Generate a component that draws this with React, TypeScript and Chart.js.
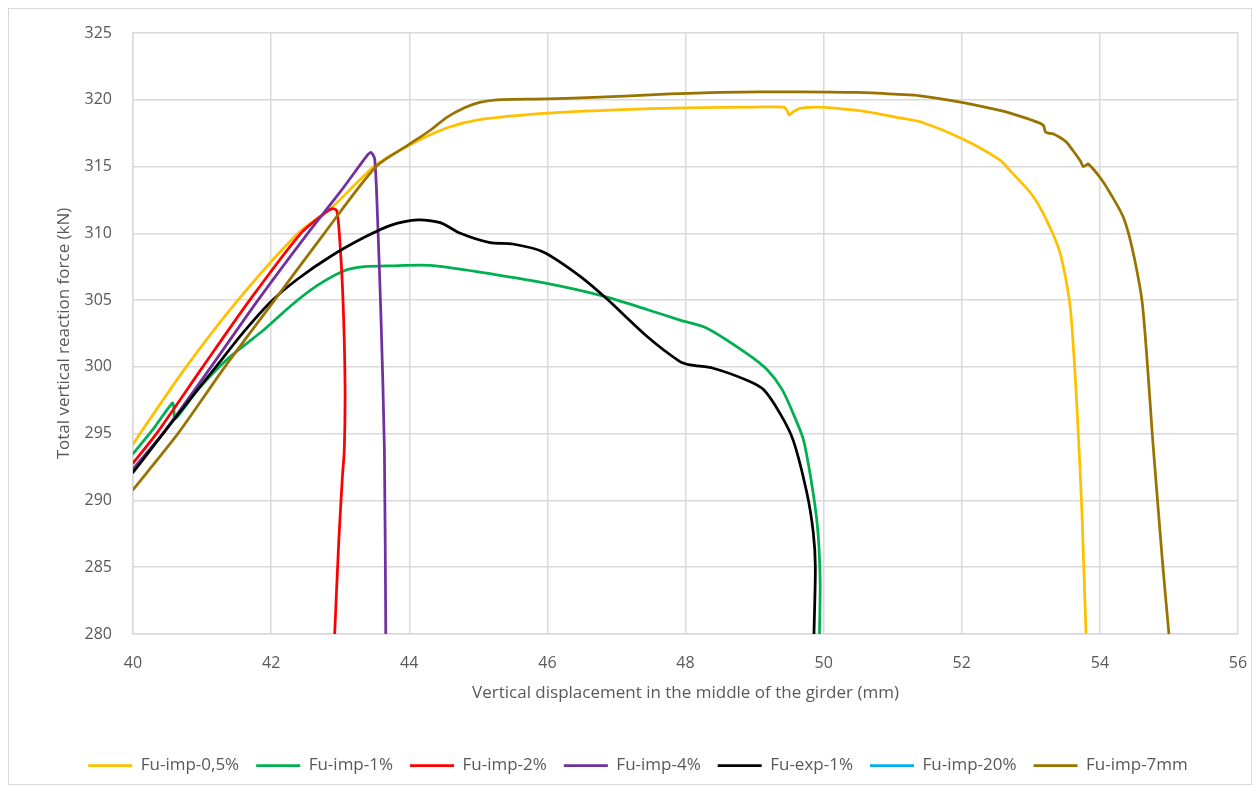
import React, { useEffect, useRef } from "react";
import { Chart, registerables } from "chart.js";

Chart.register(...registerables);

// ---------- data ----------
const seriesNames = [
  "Fu-imp-0,5%",
  "Fu-imp-1%",
  "Fu-imp-2%",
  "Fu-imp-4%",
  "Fu-exp-1%",
  "Fu-imp-20%",
  "Fu-imp-7mm",
];
const seriesColors = ["#FFC000", "#00B050", "#FF0000", "#7030A0", "#000000", "#00B0F0", "#997300"];

const imp05X = [40, 40.1, 40.77, 41.52, 42.39, 42.87, 43.49, 44.0, 44.55, 45.0, 46.0, 47.0, 48.0, 49.0, 49.42, 49.47, 49.5, 49.56, 49.66, 49.9, 50.2, 50.63, 51.1, 51.4, 52.0, 52.55, 52.7, 53.0, 53.18, 53.42, 53.57, 53.67, 53.74, 53.78, 53.8];
const imp05Y = [294.2, 295, 300, 305, 310, 311.9, 315, 316.6, 317.9, 318.5, 319.0, 319.25, 319.4, 319.45, 319.45, 319.2, 318.85, 319.1, 319.35, 319.45, 319.35, 319.1, 318.65, 318.35, 317.1, 315.5, 314.7, 313.0, 311.5, 308.6, 304.5, 296.8, 289.1, 283, 280];

const imp1X = [40, 40.3, 40.57, 40.59, 40.61, 40.94, 41.37, 41.9, 42.29, 42.67, 43.06, 43.35, 43.73, 44.3, 45.02, 45.99, 46.81, 47.44, 47.92, 48.31, 48.89, 49.18, 49.4, 49.56, 49.71, 49.85, 49.92, 49.95, 49.94];
const imp1Y = [293.5, 295.4, 297.3, 297.0, 296.1, 298.3, 300.6, 302.8, 304.6, 306.1, 307.2, 307.5, 307.57, 307.6, 307.1, 306.25, 305.3, 304.3, 303.5, 302.9, 301.0, 299.8, 298.3, 296.5, 294.5, 290.5, 287.5, 283.8, 280];

const imp2X = [40, 40.34, 41.01, 41.69, 42.43, 42.8, 42.89, 42.95, 42.99, 43.04, 43.07, 43.06, 43.03, 42.98, 42.92];
const imp2Y = [292.8, 295, 300, 305, 310, 311.6, 311.85, 311.7, 309.8, 305.1, 298.8, 293.85, 291.6, 287, 280];

const imp4X = [40, 40.43, 41.13, 41.81, 42.53, 43.0, 43.4, 43.45, 43.5, 43.54, 43.59, 43.64, 43.66];
const imp4Y = [292.35, 295, 300, 305, 310, 313.1, 315.9, 316.05, 315.55, 311.3, 303.8, 293.85, 280];

const exp1X = [40, 40.3, 40.6, 41.2, 41.6, 42.0, 42.39, 42.87, 43.35, 43.73, 44.13, 44.45, 44.74, 45.17, 45.5, 45.94, 46.47, 46.86, 47.44, 47.92, 48.07, 48.4, 48.89, 49.13, 49.37, 49.56, 49.76, 49.85, 49.88, 49.86];
const exp1Y = [292.1, 294.1, 296.1, 300, 302.6, 304.9, 306.6, 308.3, 309.7, 310.6, 311.0, 310.8, 310.0, 309.3, 309.2, 308.6, 306.8, 305.1, 302.3, 300.4, 300.15, 299.9, 299.0, 298.3, 296.5, 294.5, 290.5, 287.6, 285.0, 280];

const imp20X: number[] = [];
const imp20Y: number[] = [];

const imp7mmX = [40, 40.65, 41.33, 42.05, 42.77, 43.52, 43.98, 44.3, 44.55, 44.8, 45.02, 45.27, 46.0, 46.76, 47.63, 48.5, 49.66, 50.5, 51.1, 51.4, 52.0, 52.55, 52.7, 53.0, 53.18, 53.21, 53.25, 53.32, 53.5, 53.61, 53.72, 53.76, 53.8, 53.83, 54.0, 54.15, 54.34, 54.48, 54.62, 54.77, 54.91, 55.0];
const imp7mmY = [290.8, 295, 300, 305, 310, 315, 316.6, 317.7, 318.7, 319.4, 319.8, 320.0, 320.06, 320.2, 320.4, 320.55, 320.6, 320.55, 320.4, 320.3, 319.8, 319.2, 319.0, 318.5, 318.1, 317.6, 317.5, 317.45, 316.9, 316.2, 315.4, 315.0, 315.1, 315.2, 314.2, 313.0, 311.2, 308.6, 304.5, 294.2, 285.2, 280];

const seriesX = [imp05X, imp1X, imp2X, imp4X, exp1X, imp20X, imp7mmX];
const seriesY = [imp05Y, imp1Y, imp2Y, imp4Y, exp1Y, imp20Y, imp7mmY];

const xTitle = "Vertical displacement in the middle of the girder (mm)";
const yTitle = "Total vertical reaction force (kN)";
const xMin = 40, xMax = 56, xStep = 2;
const yMin = 280, yMax = 325, yStep = 5;

const FONT = "'Open Sans', 'DejaVu Sans', sans-serif";
const TEXT = "#595959";
const GRID = "#d9d9d9";

export default function App() {
  const ref = useRef<HTMLCanvasElement>(null);
  useEffect(() => {
    const datasets = seriesNames.map((name, i) => ({
      label: name,
      data: seriesX[i].map((x, j) => ({ x, y: seriesY[i][j] })),
      borderColor: seriesColors[i],
      backgroundColor: seriesColors[i],
      borderWidth: 2.75,
      pointRadius: 0,
      pointHoverRadius: 0,
      showLine: true,
      tension: 0.25,
      borderCapStyle: "round" as const,
      borderJoinStyle: "round" as const,
      order: seriesNames.length - i,
    }));
    const chart = new Chart(ref.current!, {
      type: "scatter",
      data: { datasets },
      options: {
        animation: false,
        responsive: true,
        maintainAspectRatio: false,
        layout: { padding: { left: 29, right: 13, top: 24, bottom: 0 } },
        plugins: {
          tooltip: { enabled: false },
          legend: {
            position: "bottom",
            labels: {
              usePointStyle: true,
              pointStyle: "line",
              pointStyleWidth: 44,
              padding: 17,
              color: TEXT,
              font: { family: FONT, size: 17 },
              sort: (a: any, b: any) => a.datasetIndex - b.datasetIndex,
            },
          },
        },
        scales: {
          x: {
            type: "linear",
            min: xMin,
            max: xMax,
            ticks: { stepSize: xStep, color: TEXT, font: { family: FONT, size: 16 }, padding: 1, maxRotation: 0 },
            grid: { color: GRID, lineWidth: 1.5, drawTicks: true, tickLength: 19, tickColor: "rgba(0,0,0,0)" },
            border: { color: GRID, width: 1.5 },
            title: { display: true, text: xTitle, color: TEXT, font: { family: FONT, size: 17 }, padding: { top: 0, bottom: 37 } },
            afterFit: (s: any) => { s.height = 106; },
          },
          y: {
            type: "linear",
            min: yMin,
            max: yMax,
            ticks: { stepSize: yStep, color: TEXT, font: { family: FONT, size: 16 }, padding: 1 },
            grid: { color: GRID, lineWidth: 1.5, drawTicks: true, tickLength: 20, tickColor: "rgba(0,0,0,0)" },
            border: { color: GRID, width: 1.5 },
            title: { display: true, text: yTitle, color: TEXT, font: { family: FONT, size: 17 }, padding: { top: 16, bottom: 0 } },
            afterFit: (s: any) => { s.width = 95; },
          },
        },
      },
    });
    return () => chart.destroy();
  }, []);
  return (
    <div
      style={{
        width: 1244,
        height: 777,
        border: "1px solid #d9d9d9",
        boxSizing: "border-box",
        position: "relative",
        background: "#fff",
      }}
    >
      <canvas ref={ref} />
    </div>
  );
}
